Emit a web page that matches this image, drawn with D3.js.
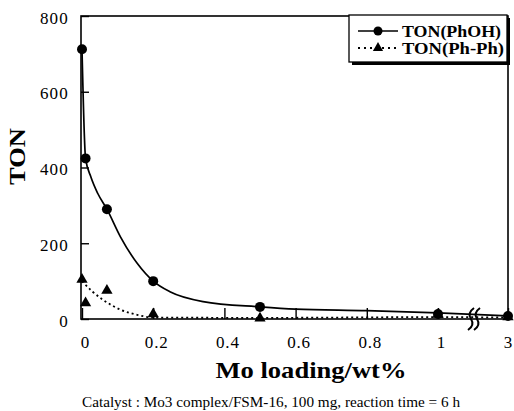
<!DOCTYPE html>
<html>
<head>
<meta charset="utf-8">
<script src="https://cdn.jsdelivr.net/npm/d3@7"></script>
<style>
  body { margin: 0; background: #fff; }
  svg { display: block; }
  text { font-family: "Liberation Serif", "Times New Roman", serif; fill: #000; }
</style>
</head>
<body>
<div id="chart"></div>
<script>
// measured points
const loading = [0, 0.01, 0.07, 0.2, 0.5, 1, 3];
const tonPhOH = [712, 424, 290, 100, 32, 13, 8];
const tonPhPh = [104, 42, 75, 13, 2, 12, 5];

// fitted curves
const fitPhOHx = [0, 0.01, 0.025, 0.044, 0.07, 0.108, 0.155, 0.2, 0.247, 0.34, 0.5, 0.6, 0.8, 1, 3];
const fitPhOHy = [712, 424, 375, 332, 290, 217, 147, 100, 72, 46, 32, 26, 22, 16, 8];
const fitPhPhx = [0, 0.03, 0.06, 0.11, 0.155, 0.2, 0.5, 1, 3];
const fitPhPhy = [100, 72, 50, 24, 11, 4, 3, 5, 4];

const xTicks = [0, 0.2, 0.4, 0.6, 0.8, 1, 3];
const yTicks = [0, 200, 400, 600, 800];

const width = 514, height = 411;
const plotL = 81, plotR = 508, plotT = 16, plotB = 319;

const svg = d3.select("#chart").append("svg")
  .attr("width", width)
  .attr("height", height);

// broken x axis: 0..1 linear, then jump to 3
const x = d3.scaleLinear().domain([0, 1, 3]).range([82, 438, 508]);
const y = d3.scaleLinear().domain([0, 800]).range([plotB, plotT]);

// y axis
const yAxis = svg.append("g")
  .attr("transform", `translate(${plotL},0)`)
  .call(d3.axisLeft(y).tickValues(yTicks).tickSize(-8).tickPadding(12).tickFormat(d3.format("d")))
  .attr("font-family", null)
  .attr("font-size", null);
yAxis.select(".domain").remove();
yAxis.selectAll("line").attr("stroke-width", 1.4);
yAxis.selectAll("text")
  .attr("dy", "0.42em")
  .attr("fill", "#000")
  .attr("font-family", "'Liberation Serif', serif")
  .attr("font-size", 17)
  .attr("letter-spacing", 1.2);

// x axis
const xAxis = svg.append("g")
  .attr("transform", `translate(0,${plotB})`)
  .call(d3.axisBottom(x).tickValues(xTicks).tickSize(-11).tickPadding(17).tickFormat(d => d))
  .attr("font-family", null)
  .attr("font-size", null);
xAxis.select(".domain").remove();
xAxis.selectAll("line").attr("stroke-width", 1.4);
xAxis.selectAll("text")
  .attr("y", 29)
  .attr("dy", 0)
  .attr("dx", d => d === 3 ? 0 : 3)
  .attr("fill", "#000")
  .attr("font-family", "'Liberation Serif', serif")
  .attr("font-size", 17)
  .attr("letter-spacing", 0.8);

// frame
svg.append("rect")
  .attr("x", plotL).attr("y", plotT)
  .attr("width", plotR - plotL).attr("height", plotB - plotT)
  .attr("fill", "none").attr("stroke", "#000").attr("stroke-width", 1.6);

// curves
const line = d3.line()
  .x(d => x(d[0]))
  .y(d => y(d[1]))
  .curve(d3.curveMonotoneX);

svg.append("path")
  .datum(fitPhOHx.map((v, i) => [v, fitPhOHy[i]]))
  .attr("d", line)
  .attr("fill", "none").attr("stroke", "#000").attr("stroke-width", 1.7);

svg.append("path")
  .datum(fitPhPhx.map((v, i) => [v, fitPhPhy[i]]))
  .attr("d", line)
  .attr("fill", "none").attr("stroke", "#000").attr("stroke-width", 1.8)
  .attr("stroke-dasharray", "2,3");

// axis break marks
const bx = 474;
[-3, 3].forEach(o => {
  svg.append("path")
    .attr("d", `M${bx + o + 3},${plotB - 11} Q${bx + o - 4},${plotB - 6} ${bx + o},${plotB} Q${bx + o + 4},${plotB + 6} ${bx + o - 3},${plotB + 11}`)
    .attr("fill", "none").attr("stroke", "#000").attr("stroke-width", 2);
});

// markers
const tri = d3.symbol().type(d3.symbolTriangle).size(55);

svg.append("g").selectAll("path")
  .data(loading.map((v, i) => [v, tonPhPh[i]]))
  .join("path")
  .attr("d", tri)
  .attr("transform", d => `translate(${x(d[0])},${y(d[1])})`)
  .attr("fill", "#000");

svg.append("g").selectAll("circle")
  .data(loading.map((v, i) => [v, tonPhOH[i]]))
  .join("circle")
  .attr("cx", d => x(d[0]))
  .attr("cy", d => y(d[1]))
  .attr("r", 5)
  .attr("fill", "#000");

// legend
const lg = svg.append("g").attr("transform", "translate(349,15)");
lg.append("rect").attr("x", 3).attr("y", 3).attr("width", 158).attr("height", 47).attr("fill", "#000");
lg.append("rect").attr("width", 158).attr("height", 47)
  .attr("fill", "#fff").attr("stroke", "#000").attr("stroke-width", 1.3);

lg.append("line").attr("x1", 9).attr("x2", 49).attr("y1", 16).attr("y2", 16)
  .attr("stroke", "#000").attr("stroke-width", 1.5);
lg.append("circle").attr("cx", 29).attr("cy", 16).attr("r", 4.5).attr("fill", "#000");
lg.append("text").attr("x", 53).attr("y", 21.5)
  .attr("textLength", 99).attr("lengthAdjust", "spacingAndGlyphs")
  .style("font-size", "16px").style("font-weight", "bold")
  .text("TON(PhOH)");

lg.append("line").attr("x1", 9).attr("x2", 49).attr("y1", 33).attr("y2", 33)
  .attr("stroke", "#000").attr("stroke-width", 2).attr("stroke-dasharray", "2,4");
lg.append("path").attr("d", tri).attr("transform", "translate(29,33)").attr("fill", "#fff");
lg.append("path").attr("d", d3.symbol().type(d3.symbolTriangle).size(45)).attr("transform", "translate(29,33)").attr("fill", "#000");
lg.append("text").attr("x", 53).attr("y", 38.5)
  .attr("textLength", 102).attr("lengthAdjust", "spacingAndGlyphs")
  .style("font-size", "16px").style("font-weight", "bold")
  .text("TON(Ph-Ph)");

// axis titles
svg.append("text")
  .attr("x", 311).attr("y", 378)
  .attr("text-anchor", "middle")
  .attr("textLength", 191).attr("lengthAdjust", "spacingAndGlyphs")
  .style("font-size", "23px").style("font-weight", "bold")
  .text("Mo loading/wt%");

svg.append("text")
  .attr("transform", "translate(25,156.5) rotate(-90)")
  .attr("text-anchor", "middle")
  .attr("textLength", 57).attr("lengthAdjust", "spacingAndGlyphs")
  .style("font-size", "23px").style("font-weight", "bold")
  .text("TON");

// caption
svg.append("text")
  .attr("x", 271).attr("y", 407)
  .attr("text-anchor", "middle")
  .attr("textLength", 378).attr("lengthAdjust", "spacingAndGlyphs")
  .style("font-size", "15px")
  .text("Catalyst : Mo3 complex/FSM-16, 100 mg, reaction time = 6 h");
</script>
</body>
</html>
